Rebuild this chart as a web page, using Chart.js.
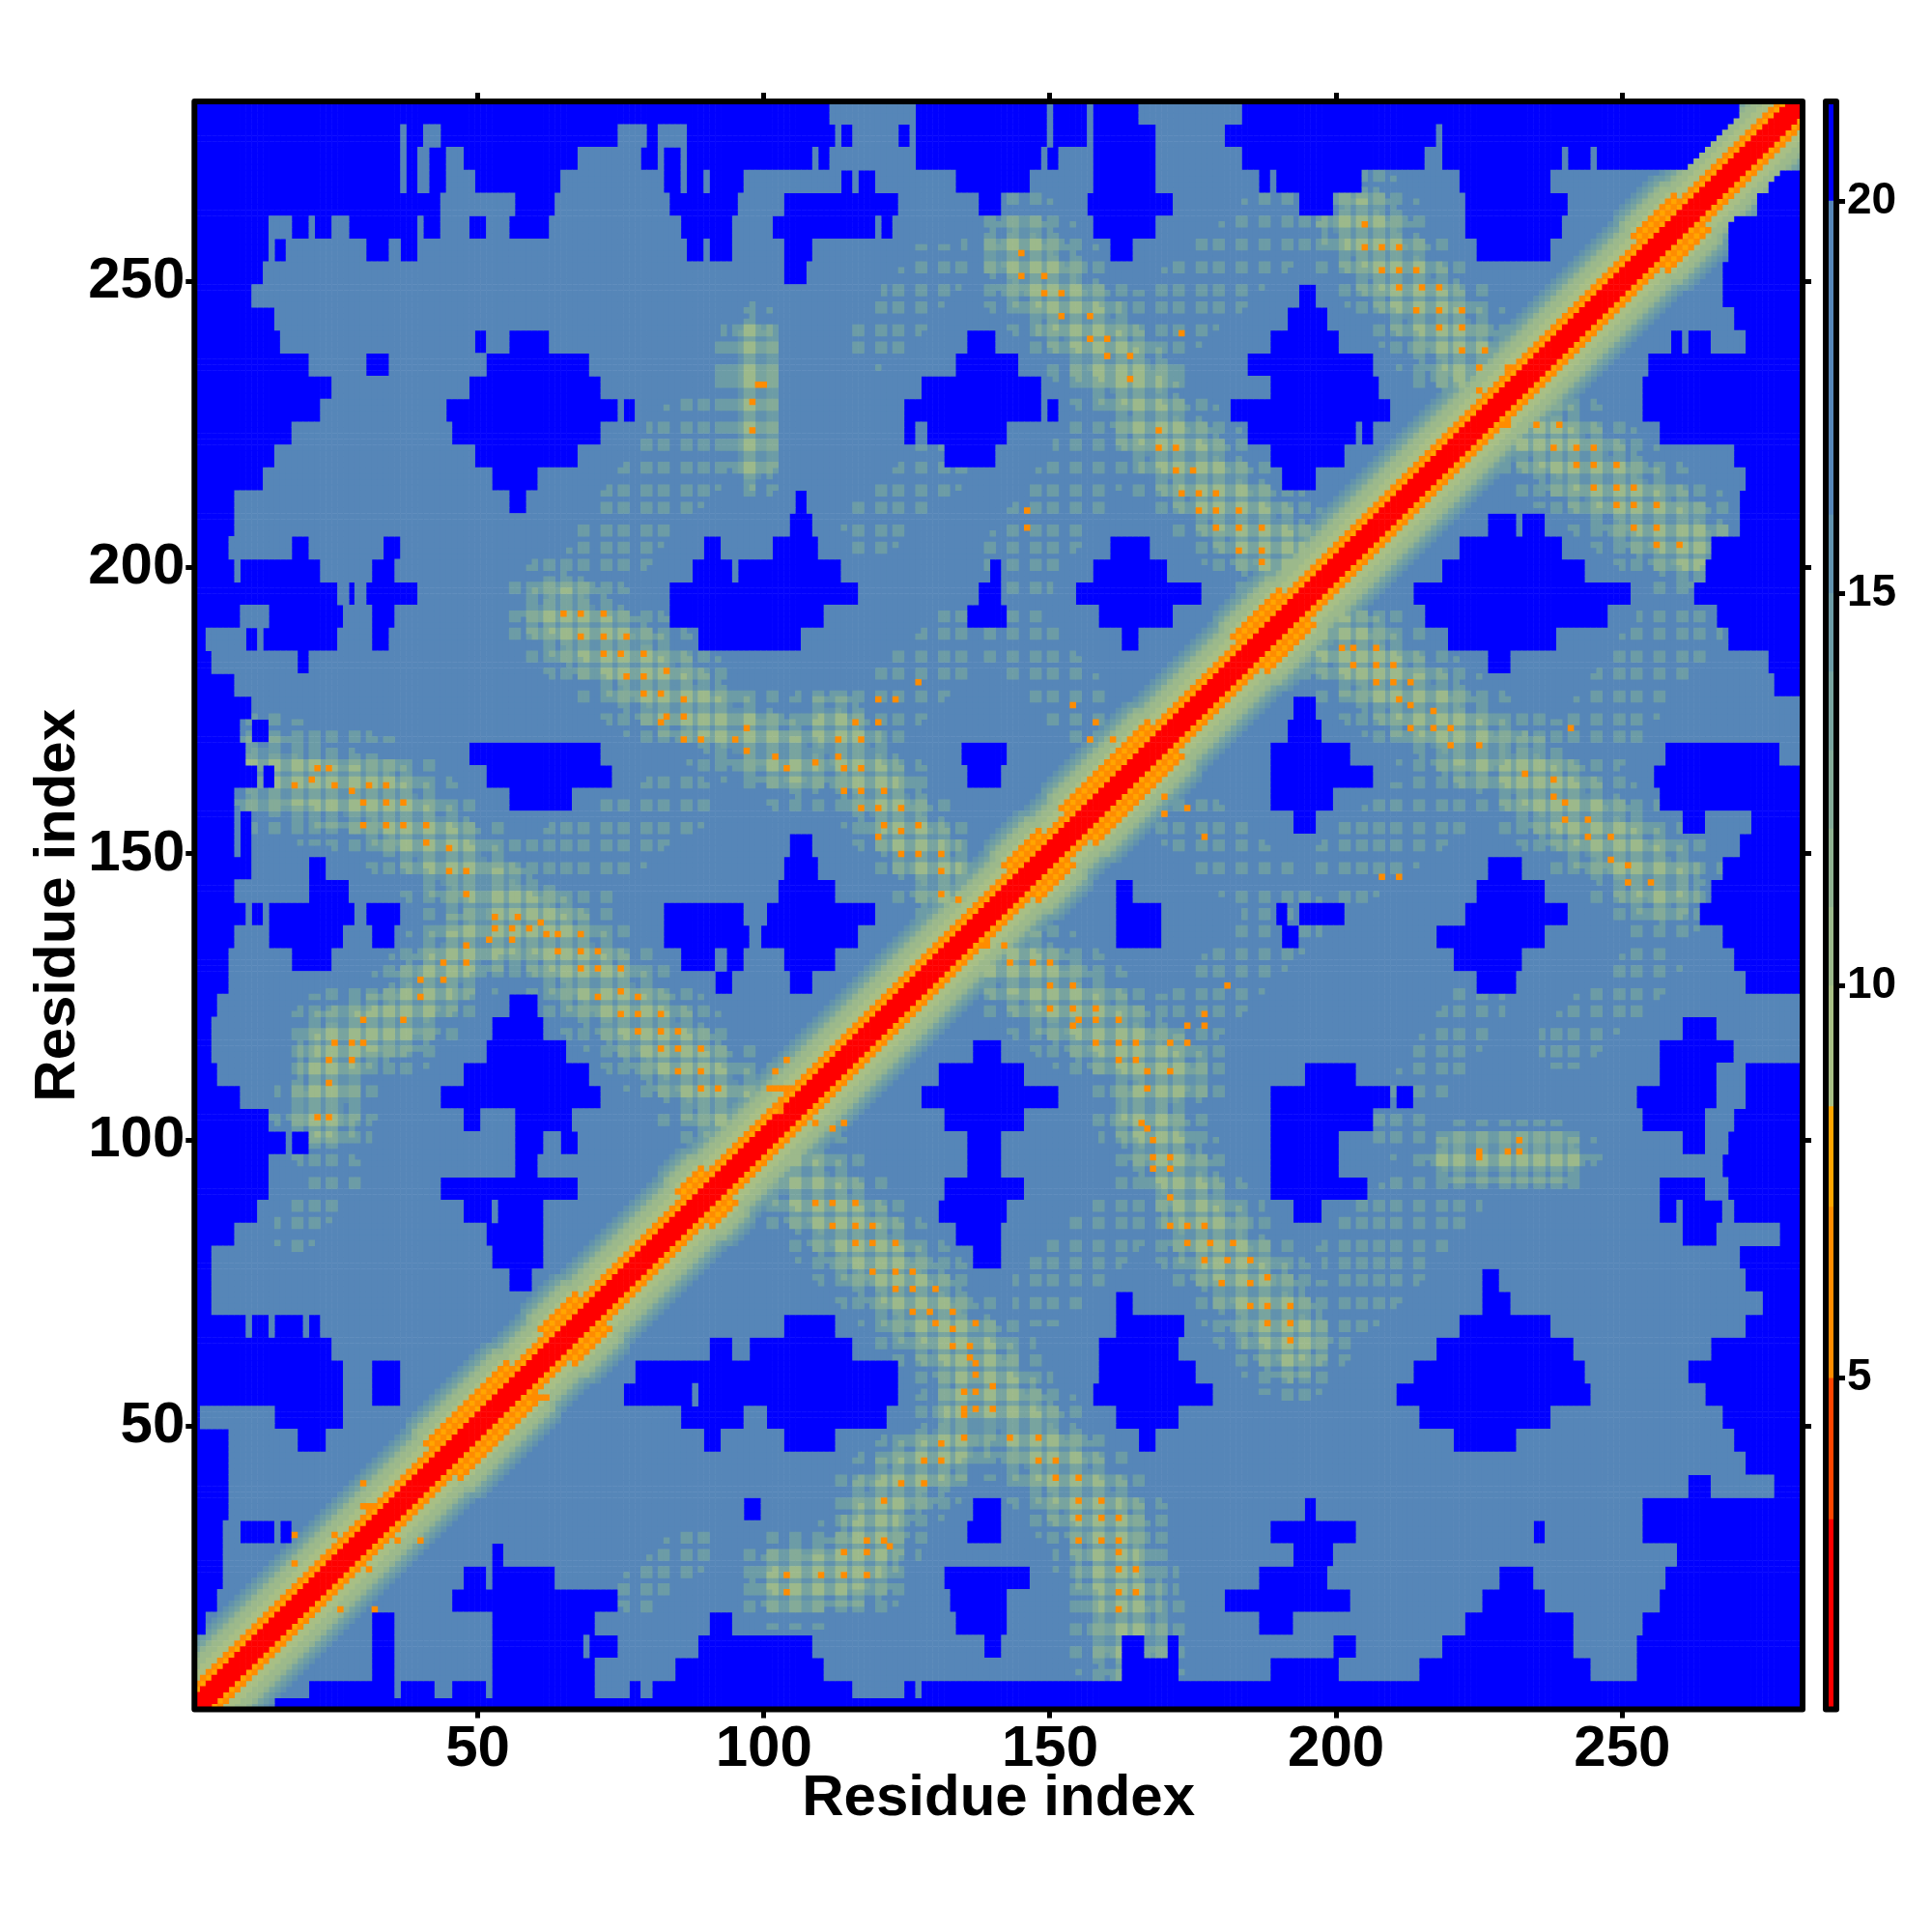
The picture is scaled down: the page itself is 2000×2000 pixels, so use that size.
<!DOCTYPE html>
<html>
<head>
<meta charset="utf-8">
<title>Residue contact map</title>
<script src="https://cdn.jsdelivr.net/npm/chart.js@4/dist/chart.umd.js"></script>
<style>
  html, body { margin: 0; background: #fff; }
  canvas { position: absolute; left: 0; top: 0; }
</style>
</head>
<body>
<canvas id="map" width="2000" height="2000"></canvas>
<canvas id="bar" width="2000" height="2000"></canvas>
<script>
const residues = 281;
const axisMin = 0.5;
const axisMax = 281.5;
const tickStep = 50;
const axisTitle = "Residue index";

// colour levels: upper value of each level and its colour
const levelTops = [3.2, 5, 7.18, 8.46, 10, 11, 12, 13, 14, 15, 16, 20, 21.27];
const levelColors = ["#ff0000", "#ff4500", "#ff8c00", "#ffa500", "#a8bf85", "#9cb98b", "#90b291", "#84ab98", "#78a49f", "#6c9ca6", "#6192ae", "#5686b8", "#0000ff"];
const barMin = 0.78;
const barMax = 21.27;
const barTicks = [5, 10, 15, 20];

const backgroundValue = 18;
const blueValue = 21;
const hotValue = 6.4;

// value by distance from the diagonal
const bandValues = [2, 2, 3, 8, 6.5, 9, 9.5, 10, 10.5, 11.5, 13, 14.5, 15.5, 17];
const wideBandValues = [2, 2, 3, 8, 6.5, 8, 6.5, 9.5, 10, 10.5, 11.5, 13, 14.5, 15.5, 17];
const wideSpans = [[44, 58], [64, 70], [88, 92], [145, 151], [155, 170], [185, 193], [255, 262]];

// blue (over 20) runs: y, then x from / x to pairs, one row of four residues
const blueRows = [
  [280, 0,111, 127,149, 151,156, 158,165, 184,270],
  [276, 0,36, 38,40, 44,74, 80,81, 87,112, 114,115, 124,125, 127,149, 151,156, 158,168, 181,183, 184,217, 219,241, 242,269],
  [272, 0,36, 38,39, 42,44, 48,67, 79,81, 83,85, 87,108, 110,111, 127,148, 150,151, 158,168, 184,215, 219,239, 241,244, 246,264],
  [268, 0,36, 38,39, 42,44, 50,64, 83,85, 87,89, 91,96, 114,115, 117,119, 134,146, 158,168, 187,188, 190,204, 222,237, 276,281],
  [264, 0,40, 41,43, 57,63, 84,95, 104,123, 138,141, 157,171, 194,199, 223,240, 274,281],
  [260, 0,13, 18,20, 22,24, 28,36, 37,39, 41,43, 49,51, 56,62, 86,94, 102,119, 121,122, 158,168, 223,239, 269,281],
  [256, 0,13, 15,16, 31,34, 37,39, 87,89, 91,94, 104,108, 161,164, 225,237, 269,281],
  [252, 0,12, 104,107, 268,281],
  [248, 0,10, 194,196, 268,281],
  [244, 0,11, 12,14, 192,198, 270,281],
  [240, 0,15, 50,51, 56,62, 136,140, 189,200, 259,260, 262,265, 272,281],
  [236, 0,20, 31,34, 52,69, 134,144, 185,206, 255,281],
  [232, 0,24, 49,71, 128,148, 189,207, 254,281],
  [228, 0,22, 45,74, 76,77, 125,148, 150,151, 182,209, 254,281],
  [224, 0,17, 46,47, 48,71, 125,126, 129,142, 185,203, 205,206, 257,281],
  [220, 0,14, 50,67, 132,140, 189,201, 270,281],
  [216, 0,12, 53,60, 191,196, 272,281],
  [212, 0,7, 56,58, 106,107, 271,281],
  [208, 0,7, 105,108, 227,231, 233,236, 271,281],
  [204, 0,6, 18,20, 34,36, 90,92, 102,109, 161,167, 222,239, 266,281],
  [200, 0,7, 9,20, 21,22, 32,35, 88,94, 96,113, 140,141, 158,170, 219,243, 265,281],
  [196, 0,9, 10,25, 28,28, 31,39, 84,116, 138,141, 155,176, 214,251, 263,281],
  [192, 0,8, 14,26, 32,35, 84,110, 136,142, 159,171, 216,247, 267,281],
  [188, 0,2, 10,11, 13,25, 32,34, 89,106, 163,165, 220,238, 269,281],
  [184, 0,3, 19,20, 227,230, 276,281],
  [180, 0,7, 277,281],
  [176, 0,10, 193,196],
  [172, 0,8, 11,13, 192,197],
  [168, 0,9, 49,71, 135,142, 189,202, 258,277],
  [164, 0,11, 13,14, 52,70, 71,73, 136,141, 189,206, 256,281],
  [160, 0,7, 56,66, 189,199, 257,281],
  [156, 0,7, 9,10, 193,196, 261,264, 273,281],
  [152, 0,7, 9,10, 105,108, 271,281],
  [148, 0,8, 9,10, 21,23, 104,109, 227,232, 268,281],
  [144, 0,7, 21,27, 103,112, 162,164, 225,236, 266,281],
  [140, 0,9, 11,12, 14,28, 31,36, 83,96, 101,119, 162,169, 190,191, 194,201, 223,240, 264,281],
  [136, 0,7, 14,26, 32,35, 83,97, 100,116, 162,169, 191,193, 218,236, 268,281],
  [132, 0,6, 18,24, 86,91, 94,96, 104,112, 221,232, 270,281],
  [128, 0,6, 92,94, 105,108, 225,231, 272,281],
  [124, 0,4, 56,60],
  [120, 0,3, 53,61, 261,266],
  [116, 0,3, 52,65, 137,141, 257,269],
  [112, 0,4, 48,69, 131,145, 195,203, 257,266, 272,281],
  [108, 0,8, 44,71, 128,151, 189,209, 211,213, 253,266, 272,281],
  [104, 0,13, 48,50, 57,66, 132,145, 189,206, 254,264, 270,281],
  [100, 0,16, 18,20, 57,61, 65,67, 136,141, 189,200, 261,264, 269,281],
  [96, 0,13, 57,60, 136,141, 189,200, 268,281],
  [92, 0,13, 44,67, 132,145, 189,205, 257,264, 269,281],
  [88, 0,11, 48,52, 54,61, 131,142, 193,197, 257,259, 261,267, 270,281],
  [84, 0,7, 52,61, 134,141, 261,266, 278,281],
  [80, 0,3, 53,55, 56,61, 137,141, 271,281],
  [76, 0,3, 56,59, 226,228, 272,281],
  [72, 0,3, 162,164, 226,230, 275,281],
  [68, 0,9, 11,13, 15,19, 21,22, 104,112, 162,170, 171,173, 222,237, 272,281],
  [64, 0,24, 91,94, 98,115, 159,160, 161,172, 218,241, 266,281],
  [60, 0,26, 32,36, 78,97, 98,103, 104,123, 159,175, 214,243, 262,281],
  [56, 0,26, 32,36, 76,87, 89,123, 158,178, 211,244, 265,281],
  [52, 0,1, 15,26, 86,90, 91,96, 101,103, 104,121, 162,172, 215,237, 268,281],
  [48, 0,6, 19,23, 90,92, 104,112, 166,168, 221,231, 270,281],
  [44, 0,6, 272,281],
  [40, 0,6, 262,265, 277,281],
  [36, 0,6, 97,99, 137,141, 195,196, 254,281],
  [32, 0,5, 9,11, 12,14, 16,17, 136,141, 189,203, 235,236, 254,281],
  [28, 0,5, 53,54, 193,199, 260,281],
  [24, 0,5, 48,51, 53,63, 132,146, 187,198, 229,234, 258,281],
  [20, 0,4, 46,52, 53,74, 133,142, 181,184, 185,202, 226,236, 257,281],
  [16, 0,2, 32,35, 53,70, 91,94, 134,142, 187,192, 223,241, 254,281],
  [12, 32,35, 53,68, 70,74, 89,108, 139,141, 163,166, 171,172, 200,203, 219,241, 253,281],
  [8, 32,35, 53,70, 85,110, 163,172, 189,200, 215,244, 253,281],
  [4, 21,35, 37,42, 46,51, 53,70, 77,78, 81,115, 125,126, 128,281],
  [1, 15,281]
];

// residues where the cross-hatched contact pattern sits
const hatchCols = [2,6,10,14,18,21,24,28,31,34,37,41,45,48,53,56,59,62,65,68,72,75,79,82,86,89,92,97,101,105,109,113,116,120,123,127,131,134,139,143,147,150,154,158,162,165,169,172,176,179,183,187,191,194,197,201,204,207,210,214,218,221,225,229,232,235,238,241,245,249,252,256,260,263,267,271,275,279];
const hatchRows = [2,6,10,14,18,21,24,27,30,33,36,40,44,47,52,55,58,61,64,67,71,75,78,81,85,88,92,96,100,103,108,112,115,118,122,125,129,132,136,139,142,147,151,154,158,162,165,170,173,177,181,184,188,191,196,200,203,206,210,213,217,221,224,228,232,234,238,241,245,248,252,256,260,264,268,272,276];

// contact ridges: x0, y0, x1, y1, half width
const strongRidges = [
  [65,192,85,177,7], [85,177,106,166,6],
  [192,65,177,85,7], [177,85,166,106,6],
  [12,164,33,160,7], [33,160,48,147,7], [48,147,60,138,6], [60,138,93,107,7],
  [164,12,160,33,7], [160,33,147,48,7], [147,48,138,60,6], [138,60,107,93,7],
  [23,104,25,117,6], [25,117,37,121,6], [37,121,48,134,6], [48,134,60,138,6],
  [104,23,117,25,6], [117,25,121,37,6], [121,37,134,48,6], [134,48,138,60,6],
  [145,255,165,232,7], [168,225,194,198,7],
  [197,190,225,168,7], [233,164,257,145,7],
  [204,260,226,233,7], [232,226,262,204,7],
  [112,172,134,142,6], [139,134,171,111,7],
  [98,218,98,240,4], [220,97,240,97,4]
];
const faintRidges = [
  [117,172,136,189,6], [143,198,160,223,7], [170,243,190,260,7], [143,189,160,170,6],
  [170,159,188,144,6], [203,148,220,161,7], [241,165,261,191,7], [74,204,87,223,7],
  [62,148,85,159,6], [173,120,192,139,6], [149,73,170,94,6], [203,81,218,92,6],
  [120,240,130,252,5], [119,207,130,217,5], [203,72,220,90,6], [72,203,90,220,6],
  [210,102,225,124,5], [240,117,255,130,5], [45,48,70,72,6], [78,21,88,29,4],
  [71,145,80,155,4], [18,84,26,94,4]
];

// value on a ridge, by how many hatch lines cross the cell: two, one, none
const strongCore = [10, 13, 15];
const strongEdge = [12, 14.5, 16.5];
const strongFringe = [14.5, 18, 18];
const faintCore = [14, 17, 18];

// single hot contacts: x, y
const hotSpots = [
  [65,192],[68,192],[72,192],[68,188],[72,188],[76,188],[72,185],[75,185],[79,185],[76,181],[79,181],[83,182],[79,178],[82,178],[86,177],[83,174],[86,174],[82,173],[86,170],[89,170],
  [18,162],[21,163],[22,165],[24,165],[25,162],[28,161],[31,162],[34,162],[30,159],[34,159],[37,159],[30,155],[34,155],[37,155],[41,155],[41,152],[45,151],[45,147],[48,147],[48,143],[53,139],[57,139],[53,137],[56,137],[59,137],[61,138],[62,136],[64,136],[68,136],[64,133],[68,133],[71,133],[68,130],[71,130],[75,130],[71,125],[75,126],[78,125],[75,122],[78,122],[82,122],[78,119],[82,119],[85,119],[82,116],[85,116],[89,116],[85,112],[89,112],[89,109],[92,109],
  [48,134],[52,135],[56,135],[44,131],[48,131],[40,128],[44,128],[40,125],[30,121],[37,121],[25,117],[28,117],[30,117],[24,114],[28,114],[24,110],[24,104],[22,104],
  [145,255],[145,251],[149,251],[149,248],[152,248],[152,244],[157,244],[157,240],[160,240],[160,237],[164,237],[164,233],[173,241],[169,224],[169,221],[172,221],[172,217],[175,217],[173,213],[176,213],[179,213],[176,210],[179,210],[183,210],[179,207],[183,207],[187,207],[187,203],[183,203],[187,201],
  [99,232],[100,232],[98,229],[98,224],[146,210],[146,207],
  [205,260],[205,256],[208,256],[211,256],[208,252],[211,252],[214,252],[211,249],[215,249],[218,249],[214,245],[218,245],[222,245],[218,242],[222,242],[222,238],[226,238],[225,235],[230,235],[225,231],
  [230,225],[235,225],[239,225],[238,221],[242,221],[245,221],[242,218],[245,218],[249,218],[245,214],[249,214],[252,214],[249,211],[252,211],[256,211],[252,207],[256,207],[256,204],[260,204],
  [127,180],[120,177],[123,177],[116,173],[120,173],[113,170],[117,170],[113,167],[114,165],[117,165],[114,161],[117,161],[121,161],[117,158],[120,158],[124,158],[121,155],[124,154],[127,155],[120,153],[124,150],[127,150],[131,150],[131,147],[131,143],[134,142],[134,138],
  [97,172],[95,170],[97,168],[102,167],[104,165],[109,166],
  [154,176],[158,173],[157,170],[161,170],[170,160],[174,158],[170,157],[177,153],
  [139,134],[142,134],[143,131],[147,131],[150,131],[150,127],[154,127],[150,123],[154,123],[158,123],[155,121],[158,121],[162,121],[154,120],[158,117],[162,117],[165,117],[162,114],[165,114],[167,112],[171,112],[167,109],[171,117],[174,120],[174,117],[177,120],[177,122],[181,127],
  [166,103],[167,102],[168,100],[168,97],[171,97],[168,95],[171,95],
  [101,109],[102,109],[103,109],[104,109],[105,109],[103,106],[103,105],[109,105],[109,103],[114,103],[112,102],[104,114],[102,112],
  [201,186],[203,186],[207,186],[203,183],[207,183],[210,183],[207,180],[210,180],[213,180],[211,177],[213,176],[217,175],[213,172],[217,172],[220,172],[220,169],[225,169],[233,164],[238,163],[238,160],[240,159],[240,156],[244,156],[244,153],[248,153],[248,149],[251,148],[251,145],[255,145],[241,172],[208,146],[211,146],
  [232,100],[232,98],[230,98],[225,98],[225,97],
  [109,89],[112,89],[116,89],[112,85],[116,85],[119,85],[116,82],[119,82],[123,82],[119,77],[123,77],[126,77],[123,74],[126,74],[130,74],[126,70],[129,70],[133,70],[130,68],[133,67],[137,68],[133,64],[136,64],[136,62],[137,61],[137,59],[137,56],[135,56],[140,57],[135,53],[135,52],[137,53],[140,53],[131,47],[135,48],[128,44],[131,44],[124,40],[128,40],[121,37],[118,30],[121,30],[118,28],[114,28],[122,29],[114,24],[110,24],[118,24],[104,24],[104,21],
  [143,48],[148,48],[148,44],[151,44],[151,41],[155,41],[155,37],[159,37],[155,34],[159,34],[162,34],[159,30],[162,30],[155,30],[162,28],[162,25],[165,25],[165,21],[162,21],[162,18],
  [171,90],[171,85],[174,85],[177,85],[174,82],[178,82],[182,82],[177,79],[181,79],[185,79],[180,75],[185,75],[188,76],[185,71],[188,71],[188,68],[192,71],[192,68],[192,65],
  [18,31],[18,26],[26,18],[32,18],[30,40],[30,36],[31,36],[27,31],[25,31],[36,30],[40,30],[56,60],[55,59],[60,55],[62,55],[31,27],[31,25],[21,25],[24,27]
];

function makeMatrix() {
  const m = [];
  for (let x = 0; x <= residues + 1; x++) {
    m.push(new Array(residues + 2).fill(backgroundValue));
  }
  blueRows.forEach((row) => {
    const y = row[0];
    for (let i = 1; i < row.length; i += 2) {
      for (let x = Math.max(1, row[i]); x <= Math.min(residues, row[i + 1]); x++) {
        for (let yy = Math.max(1, y - 2); yy <= Math.min(residues, y + 1); yy++) {
          m[x][yy] = blueValue;
        }
      }
    }
  });
  const onCol = {};
  const onRow = {};
  hatchCols.forEach((c) => { onCol[c] = true; onCol[c + 1] = true; });
  hatchRows.forEach((r) => { onRow[r] = true; onRow[r + 1] = true; });
  const paintRidge = (r, tiers) => {
    const dx = r[2] - r[0];
    const dy = r[3] - r[1];
    const len = dx * dx + dy * dy;
    const hw = r[4];
    for (let x = 1; x <= residues; x++) {
      for (let y = 1; y <= residues; y++) {
        if (m[x][y] >= 20) continue;
        let t = ((x - r[0]) * dx + (y - r[1]) * dy) / len;
        t = Math.max(0, Math.min(1, t));
        const dist = Math.hypot(x - r[0] - t * dx, y - r[1] - t * dy);
        const tier = dist <= hw * 0.6 ? tiers[0] : dist <= hw ? tiers[1] : dist <= hw * 1.5 ? tiers[2] : null;
        if (!tier) continue;
        const hits = (onCol[x] ? 1 : 0) + (onRow[y] ? 1 : 0);
        m[x][y] = Math.min(m[x][y], tier[2 - hits]);
      }
    }
  };
  faintRidges.forEach((r) => paintRidge(r, [faintCore, faintCore, [18, 18, 18]]));
  strongRidges.forEach((r) => paintRidge(r, [strongCore, strongEdge, strongFringe]));
  for (let x = 1; x <= residues; x++) {
    for (let y = 1; y <= residues; y++) {
      const d = Math.abs(x - y);
      const mid = (x + y) / 2;
      const wide = wideSpans.some((s) => mid >= s[0] && mid <= s[1]);
      const profile = wide ? wideBandValues : bandValues;
      if (d >= profile.length) continue;
      if (m[x][y] >= 20 && d > 8) continue;
      m[x][y] = Math.min(m[x][y], profile[d]);
    }
  }
  hotSpots.forEach((p) => { m[p[0]][p[1]] = hotValue; });
  return m;
}

function levelOf(v) {
  for (let i = 0; i < levelTops.length; i++) {
    if (v < levelTops[i]) return i;
  }
  return levelTops.length - 1;
}

function makeDatasets() {
  const m = makeMatrix();
  const pts = levelColors.map(() => []);
  for (let x = 1; x <= residues; x++) {
    for (let y = 1; y <= residues; y++) {
      pts[levelOf(m[x][y])].push({ x, y });
    }
  }
  return levelColors.map((color, i) => ({
    label: "level " + i,
    data: pts[i],
    pointStyle: "rect",
    pointRadius: 4.6,
    pointBorderWidth: 0,
    backgroundColor: color,
    showLine: false,
    parsing: false,
    normalized: true,
  }));
}

const frame = {
  id: "frame",
  afterDatasetsDraw(c) {
    const a = c.chartArea;
    const ctx = c.ctx;
    ctx.save();
    ctx.lineWidth = 6;
    ctx.lineJoin = "round";
    ctx.strokeStyle = "#000";
    ctx.strokeRect(a.left, a.top, a.right - a.left, a.bottom - a.top);
    ctx.restore();
  },
};

const tickGrid = {
  drawOnChartArea: false,
  drawTicks: true,
  tickLength: 9,
  tickWidth: 5,
  tickColor: "#000",
};

function sideAxis(position, size, showLabels, title, labelPadding) {
  const horizontal = position === "top" || position === "bottom";
  return {
    type: "linear",
    position,
    min: axisMin,
    max: axisMax,
    border: { display: false },
    grid: tickGrid,
    title: title,
    ticks: {
      display: showLabels,
      stepSize: tickStep,
      includeBounds: false,
      autoSkip: false,
      maxRotation: 0,
      color: "#000",
      padding: labelPadding,
      font: { family: "'Liberation Sans'", weight: "bold", size: 60 },
    },
    afterFit(axis) {
      if (horizontal) axis.height = size;
      else axis.width = size;
    },
  };
}

const titleFont = { family: "'Liberation Sans'", weight: "bold", size: 60 };

new Chart(document.getElementById("map"), {
  type: "scatter",
  data: { datasets: makeDatasets() },
  options: {
    responsive: false,
    animation: false,
    events: [],
    devicePixelRatio: 1,
    plugins: { legend: { display: false }, tooltip: { enabled: false } },
    scales: {
      x: sideAxis("bottom", 230.4, true, { display: true, text: axisTitle, color: "#000", font: titleFont, padding: { top: 0, bottom: 102 } }, -3),
      y: sideAxis("left", 201.3, true, { display: true, text: axisTitle, color: "#000", font: titleFont, padding: { top: 24, bottom: 0 } }, 1),
      x2: sideAxis("top", 105, false, undefined, 1),
      y2: sideAxis("right", 134, false, undefined, 1),
    },
  },
  plugins: [frame],
});

// colour bar
const barSets = levelColors.map((color, i) => ({
  label: "bar " + i,
  data: [[i === 0 ? barMin : levelTops[i - 1], levelTops[i]]],
  backgroundColor: color,
  barPercentage: 1,
  categoryPercentage: 1,
  borderWidth: 0,
  grouped: false,
}));

new Chart(document.getElementById("bar"), {
  type: "bar",
  data: { labels: ["distance"], datasets: barSets },
  options: {
    responsive: false,
    animation: false,
    events: [],
    devicePixelRatio: 1,
    layout: { padding: { left: 1890, top: 105, bottom: 230.4 } },
    plugins: { legend: { display: false }, tooltip: { enabled: false } },
    scales: {
      x: { display: false },
      y: {
        position: "right",
        min: barMin,
        max: barMax,
        border: { display: false },
        grid: tickGrid,
        afterBuildTicks(axis) {
          axis.ticks = barTicks.map((value) => ({ value }));
        },
        afterFit(axis) { axis.width = 99; },
        ticks: {
          color: "#000",
          padding: 2,
          font: { family: "'Liberation Sans'", weight: "bold", size: 46 },
        },
      },
    },
  },
  plugins: [frame],
});
</script>
</body>
</html>
